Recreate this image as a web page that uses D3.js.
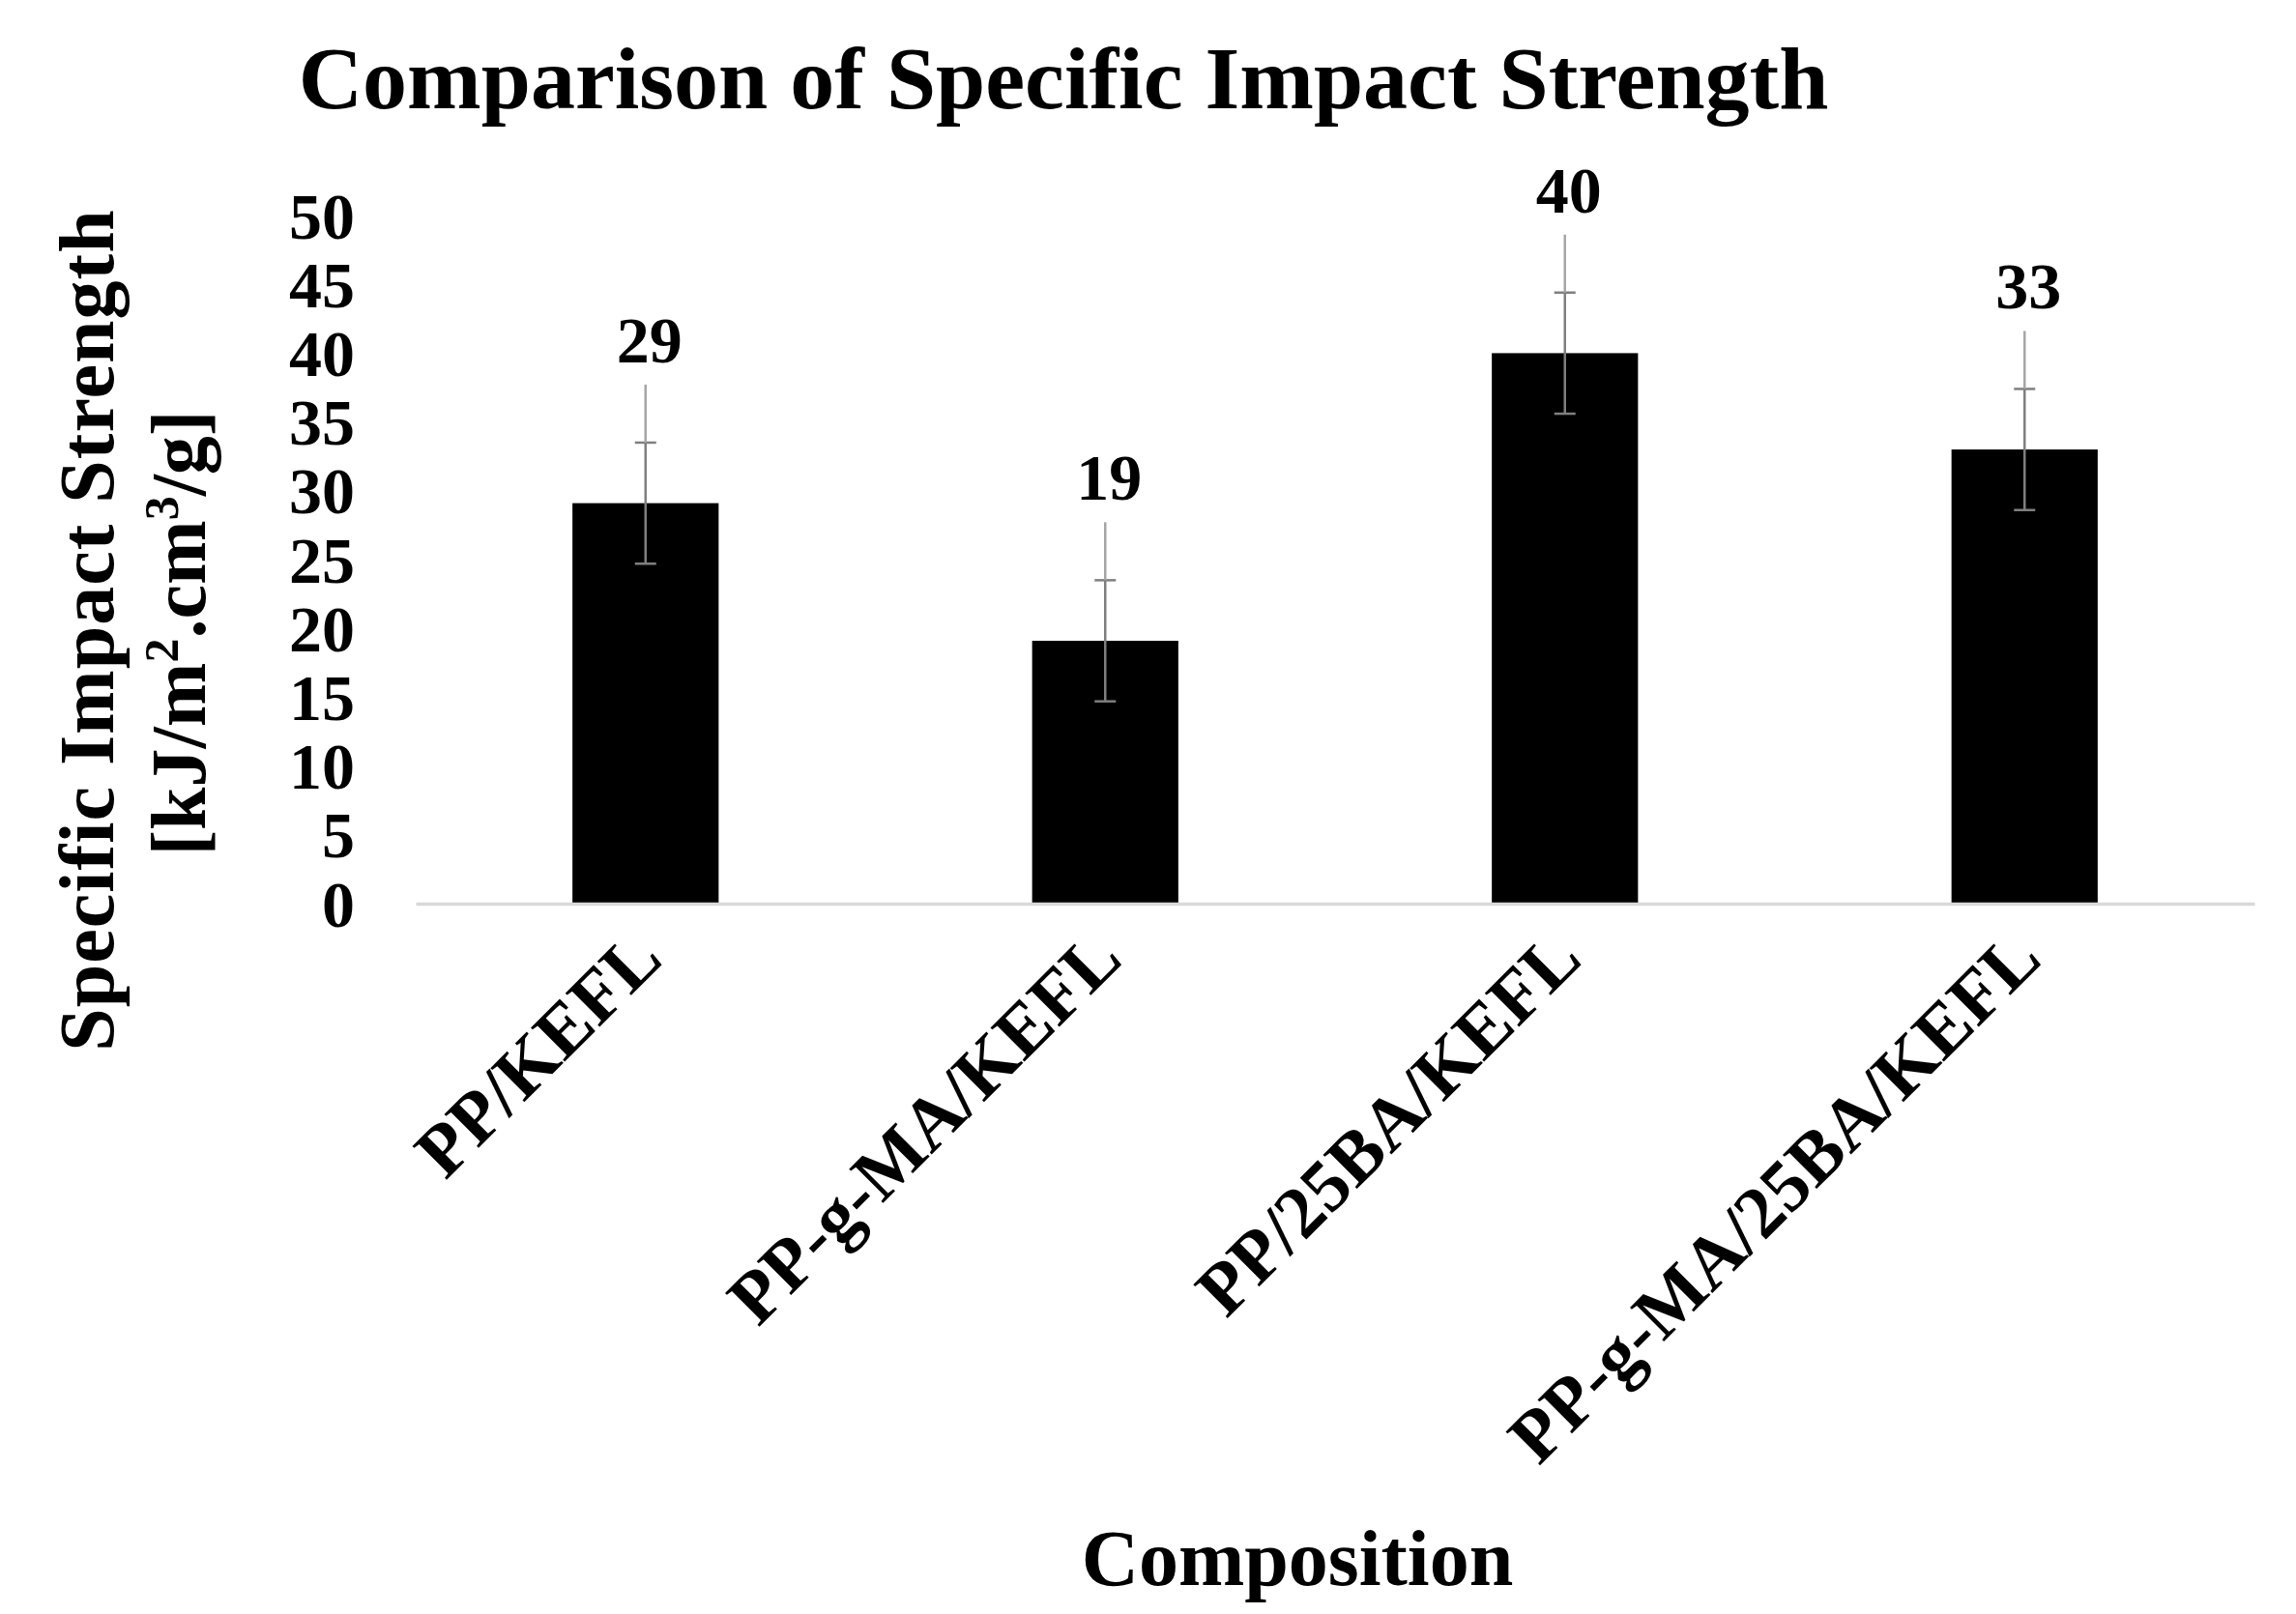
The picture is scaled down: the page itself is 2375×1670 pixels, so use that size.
<!DOCTYPE html>
<html>
<head>
<meta charset="utf-8">
<script src="https://cdn.jsdelivr.net/npm/d3@7"></script>
<style>
  body { margin: 0; background: #fff; }
  text { font-family: "Liberation Serif", "Times New Roman", serif; font-weight: bold; fill: #000; }
</style>
</head>
<body>
<div id="chart"></div>
<script>
// data
var categories = ["PP/KEFL", "PP-g-MA/KEFL", "PP/25BA/KEFL", "PP-g-MA/25BA/KEFL"];
var values = [29.1, 19.1, 40.0, 33.0];
var errors = [4.4, 4.4, 4.4, 4.4];
var valueLabels = ["29", "19", "40", "33"];
var yTicks = [0, 5, 10, 15, 20, 25, 30, 35, 40, 45, 50];

var w = 2375;
var h = 1670;
var margin = {left: 430, right: 43, top: 223, bottom: 735};

var svg = d3.select("#chart")
    .append("svg")
    .attr("width", w)
    .attr("height", h);

var x = d3.scaleBand()
    .domain(categories)
    .range([margin.left, w - margin.right])
    .paddingInner(0.682)
    .paddingOuter(0.341);

var y = d3.scaleLinear()
    .domain([0, 50])
    .range([h - margin.bottom, margin.top]);

//title
svg.append("text")
   .attr("x", 1100)
   .attr("y", 112)
   .attr("text-anchor", "middle")
   .attr("font-size", "92px")
   .text("Comparison of Specific Impact Strength");

//y axis (labels only, no line)
var yAxis = d3.axisLeft(y).tickValues(yTicks).tickSize(0).tickPadding(0);
var gy = svg.append("g")
   .attr("transform", "translate(367,0)")
   .call(yAxis);
gy.select(".domain").remove();
gy.selectAll("text")
   .attr("font-size", "68px")
   .attr("font-family", "Liberation Serif")
   .attr("font-weight", "bold")
   .attr("fill", "#000")
   .attr("dy", "0.34em");

//bars
svg.selectAll("rect.bar")
   .data(values)
   .enter()
   .append("rect")
   .attr("class", "bar")
   .attr("x", function(d, i) { return x(categories[i]); })
   .attr("y", function(d) { return y(d); })
   .attr("width", x.bandwidth())
   .attr("height", function(d) { return y(0) - y(d); })
   .attr("fill", "#000");

//x axis baseline
var xAxis = d3.axisBottom(x).tickSize(0).tickFormat("");
var gx = svg.append("g")
   .attr("transform", "translate(0," + y(0) + ")")
   .call(xAxis);
gx.select(".domain").attr("stroke", "#d9d9d9").attr("stroke-width", 3.5);

//error bars + data labels
var cap = 11;
values.forEach(function(d, i) {
  var cx = x(categories[i]) + x.bandwidth() / 2;
  var g = svg.append("g").attr("stroke", "#7f7f7f").attr("stroke-width", 2.5);
  g.append("line").attr("x1", cx).attr("x2", cx)
   .attr("y1", y(d - errors[i])).attr("y2", y(d + errors[i]));
  g.append("line").attr("x1", cx - cap).attr("x2", cx + cap)
   .attr("y1", y(d + errors[i])).attr("y2", y(d + errors[i]));
  g.append("line").attr("x1", cx - cap).attr("x2", cx + cap)
   .attr("y1", y(d - errors[i])).attr("y2", y(d - errors[i]));
  //leader line up to the data label
  g.append("line").attr("x1", cx).attr("x2", cx)
   .attr("y1", y(d + errors[i])).attr("y2", y(d + errors[i]) - 60)
   .attr("stroke", "#a6a6a6");
  svg.append("text")
   .attr("x", cx + 4)
   .attr("y", y(d + errors[i]) - 83)
   .attr("text-anchor", "middle")
   .attr("font-size", "68px")
   .text(valueLabels[i]);
});

//category labels, rotated
svg.selectAll("text.cat")
   .data(categories)
   .enter()
   .append("text")
   .attr("class", "cat")
   .attr("text-anchor", "end")
   .attr("font-size", "76px")
   .attr("transform", function(d) {
      var cx = x(d) + x.bandwidth() / 2 + 20;
      return "translate(" + cx + "," + (y(0) + 60) + ") rotate(-45)";
   })
   .text(function(d) { return d; });

//axis titles
svg.append("text")
   .attr("text-anchor", "middle")
   .attr("font-size", "80px")
   .attr("letter-spacing", "1px")
   .attr("transform", "translate(117,652) rotate(-90)")
   .text("Specific Impact Strength");

var unit = svg.append("text")
   .attr("text-anchor", "middle")
   .attr("font-size", "80px")
   .attr("transform", "translate(212,655) rotate(-90)");
unit.append("tspan").text("[kJ/m");
unit.append("tspan").attr("font-size", "50px").attr("dy", "-28").text("2");
unit.append("tspan").attr("dy", "28").text(".cm");
unit.append("tspan").attr("font-size", "50px").attr("dy", "-28").text("3");
unit.append("tspan").attr("dy", "28").text("/g]");

svg.append("text")
   .attr("x", 1342)
   .attr("y", 1640)
   .attr("text-anchor", "middle")
   .attr("font-size", "82px")
   .text("Composition");
</script>
</body>
</html>
